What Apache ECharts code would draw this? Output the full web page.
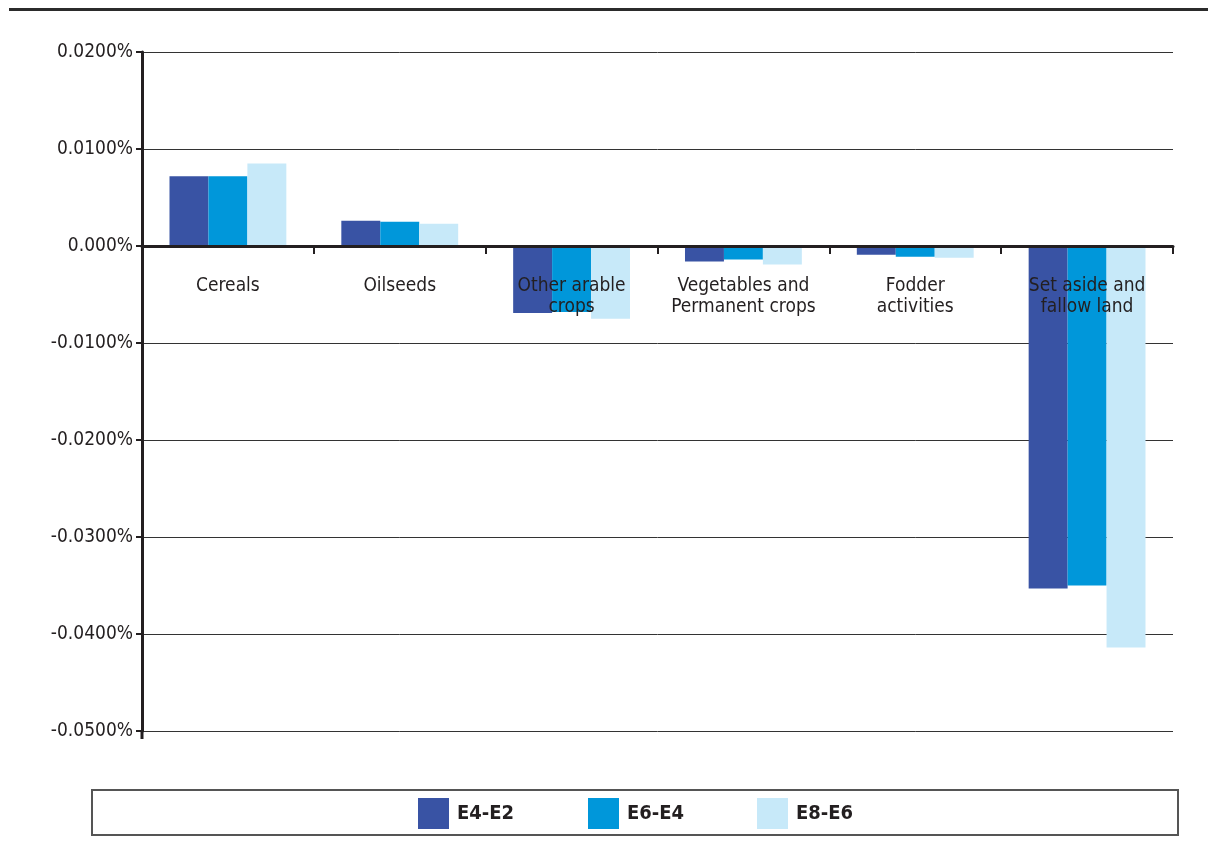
<!DOCTYPE html>
<html>
<head>
<meta charset="utf-8">
<script src="https://cdn.jsdelivr.net/npm/echarts@6/dist/echarts.min.js"></script>
<style>
html,body{margin:0;padding:0;background:#fff;}
#chart{width:1208px;height:861px;}
</style>
</head>
<body>
<div id="chart"></div>
<script>
const categories = ['Cereals', 'Oilseeds', 'Other arable\ncrops', 'Vegetables and\nPermanent crops', 'Fodder\nactivities', 'Set aside and\nfallow land'];
const seriesNames = ['E4-E2', 'E6-E4', 'E8-E6'];
const e4e2 = [0.0072, 0.0026, -0.0069, -0.0016, -0.0009, -0.0353];
const e6e4 = [0.0072, 0.0025, -0.0068, -0.0014, -0.0011, -0.0350];
const e8e6 = [0.0085, 0.0023, -0.0075, -0.0019, -0.0012, -0.0414];
const colors = ['#3953A4', '#0097DA', '#C7E9F9'];
const yMin = -0.05, yMax = 0.02, yStep = 0.01;

const FONT = "'Liberation Sans Narrow', 'DejaVu Sans Condensed', 'Roboto', sans-serif";
const TXT = '#231f20';

const chart = echarts.init(document.getElementById('chart'), null, {renderer: 'canvas'});
const data = [e4e2, e6e4, e8e6];
const legendLefts = [418, 588, 757];

// place the category axis on the zero line (offset from bottom of grid)
const gridTop = 52, gridBottomPx = 731;
const zeroY = gridTop + (yMax - 0) / (yMax - yMin) * (gridBottomPx - gridTop);
const xOffset = -(gridBottomPx - zeroY);

const option = {
  animation: false,
  backgroundColor: '#fff',
  grid: {left: 142, right: 35, top: gridTop, bottom: 861 - gridBottomPx, containLabel: false},
  xAxis: {
    type: 'category',
    data: categories,
    z: 10,
    offset: xOffset,
    axisLine: {onZero: false, lineStyle: {color: '#231f20', width: 3}},
    axisTick: {show: true, length: 8, lineStyle: {color: '#231f20', width: 2}},
    axisLabel: {color: TXT, fontFamily: FONT, fontSize: 19, lineHeight: 21, margin: 30, interval: 0},
    splitLine: {show: false}
  },
  yAxis: {
    type: 'value',
    min: yMin, max: yMax, interval: yStep,
    axisLine: {show: true, lineStyle: {color: '#231f20', width: 3}},
    axisTick: {show: true, length: 6, lineStyle: {color: '#231f20', width: 2}},
    axisLabel: {
      color: TXT, fontFamily: FONT, fontSize: 19, margin: 9,
      formatter: v => Math.abs(v) < 1e-9 ? '0.000%' : (v.toFixed(4) + '%')
    },
    splitLine: {show: true, lineStyle: {color: '#333', width: 1}}
  },
  legend: legendLefts.map((l, i) => ({
    data: [seriesNames[i]],
    left: l, top: 798,
    itemWidth: 31, itemHeight: 31, itemGap: 0, padding: 0,
    icon: 'rect',
    textStyle: {color: TXT, fontFamily: FONT, fontSize: 20, fontWeight: 'bold', padding: [0, 0, 0, 3]}
  })),
  graphic: [
    {type: 'rect', shape: {x: 9, y: 8, width: 1199, height: 3}, style: {fill: '#2b2b2b'}},
    {type: 'rect', shape: {x: 92, y: 790, width: 1086, height: 45}, style: {fill: 'none', stroke: '#555', lineWidth: 2}, z: -1},
    {type: 'rect', shape: {x: 140.5, y: 731, width: 3, height: 8}, style: {fill: '#231f20'}}
  ],
  series: seriesNames.map((n, i) => ({
    name: n,
    type: 'bar',
    data: data[i],
    barGap: '0%',
    barCategoryGap: '32%',
    itemStyle: {color: colors[i]},
    z: 1
  }))
};
chart.setOption(option);
</script>
</body>
</html>
